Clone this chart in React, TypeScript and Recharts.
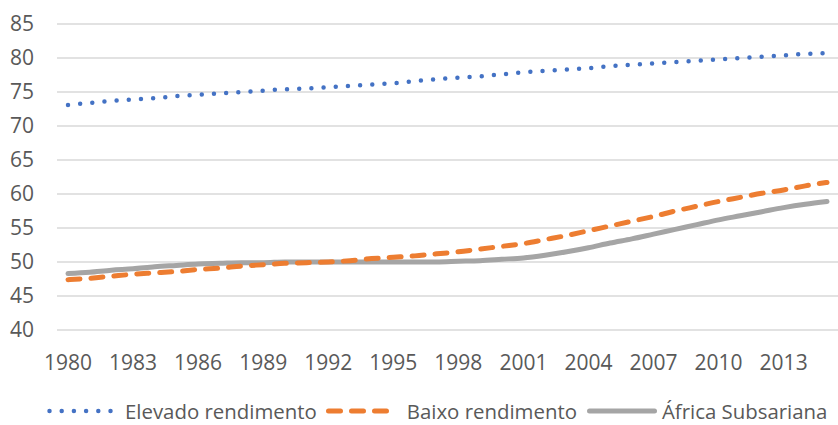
import React from 'react';
import { LineChart, Line, XAxis, YAxis, CartesianGrid, Legend } from 'recharts';

const years = [
  '1980', '1981', '1982', '1983', '1984', '1985', '1986', '1987', '1988', '1989',
  '1990', '1991', '1992', '1993', '1994', '1995', '1996', '1997', '1998', '1999',
  '2000', '2001', '2002', '2003', '2004', '2005', '2006', '2007', '2008', '2009',
  '2010', '2011', '2012', '2013', '2014', '2015',
];

const elevado = [
  73.1, 73.4, 73.7, 73.9, 74.1, 74.4, 74.6, 74.8, 75.0, 75.2,
  75.4, 75.5, 75.7, 75.9, 76.1, 76.3, 76.6, 76.9, 77.1, 77.3,
  77.6, 77.9, 78.1, 78.3, 78.5, 78.8, 79.0, 79.2, 79.4, 79.6,
  79.8, 80.0, 80.2, 80.4, 80.6, 80.7,
];

const baixo = [
  47.4, 47.6, 47.9, 48.2, 48.4, 48.6, 48.9, 49.1, 49.4, 49.6,
  49.8, 49.9, 50.0, 50.2, 50.5, 50.7, 50.9, 51.2, 51.5, 51.9,
  52.3, 52.7, 53.3, 53.9, 54.6, 55.3, 56.0, 56.7, 57.5, 58.2,
  58.9, 59.5, 60.1, 60.6, 61.2, 61.7,
];

const africa = [
  48.3, 48.5, 48.8, 49.0, 49.3, 49.5, 49.7, 49.8, 49.9, 49.9,
  50.0, 50.0, 50.0, 50.0, 50.0, 50.0, 50.0, 50.0, 50.1, 50.2,
  50.4, 50.6, 51.0, 51.5, 52.1, 52.8, 53.4, 54.1, 54.8, 55.5,
  56.2, 56.8, 57.4, 58.0, 58.5, 58.9,
];

const yTicks = [40, 45, 50, 55, 60, 65, 70, 75, 80, 85];

const seriesNames = ['Elevado rendimento', 'Baixo rendimento', 'África Subsariana'];

const data = years.map((y, i) => ({
  year: y,
  elevado: elevado[i],
  baixo: baixo[i],
  africa: africa[i],
}));

const FONT = '"Open Sans", sans-serif';
const FS = 21;
const LFS = 20.4;
const TEXT = '#595959';
const BLUE = '#4472C4';
const ORANGE = '#ED7D31';
const GRAY = '#A5A5A5';

const LegendContent = () => {
  const itemText: React.CSSProperties = {
    fontFamily: FONT,
    fontSize: LFS,
    color: TEXT,
    whiteSpace: 'nowrap',
    lineHeight: 'normal',
    flex: 'none',
  };
  return (
    <div style={{ display: 'flex', alignItems: 'center', paddingLeft: 47 }}>
      <svg width={66} height={10} style={{ marginRight: 12, flex: 'none' }}>
        <line x1={2.5} y1={5} x2={64} y2={5} stroke={BLUE} strokeWidth={4.5} strokeLinecap="round" strokeDasharray="0 12.2" />
      </svg>
      <span style={itemText}>{seriesNames[0]}</span>
      <svg width={65} height={10} style={{ marginLeft: 9, marginRight: 16, flex: 'none' }}>
        <line x1={2.5} y1={5} x2={63} y2={5} stroke={ORANGE} strokeWidth={5} strokeLinecap="round" strokeDasharray="12 11" />
      </svg>
      <span style={itemText}>{seriesNames[1]}</span>
      <svg width={70} height={10} style={{ marginLeft: 10, marginRight: 5, flex: 'none' }}>
        <line x1={2.5} y1={5} x2={67.5} y2={5} stroke={GRAY} strokeWidth={5} strokeLinecap="round" />
      </svg>
      <span style={itemText}>{seriesNames[2]}</span>
    </div>
  );
};

export default function App() {
  return (
    <div style={{ position: 'absolute', left: 0, top: 0, background: '#fff' }}>
      <LineChart width={838} height={425} data={data} margin={{ top: 24, right: 0, bottom: 37, left: 0 }}>
        <CartesianGrid vertical={false} stroke="#D9D9D9" strokeWidth={1.5} />
        <XAxis
          dataKey="year"
          interval={2}
          axisLine={false}
          tickLine={false}
          tickMargin={19}
          padding={{ left: 11, right: 11 }}
          tick={{ fill: TEXT, fontSize: FS, fontFamily: FONT }}
        />
        <YAxis
          width={57}
          domain={[40, 85]}
          ticks={yTicks}
          interval={0}
          axisLine={false}
          tickLine={false}
          tickMargin={17}
          tick={{ fill: TEXT, fontSize: FS, fontFamily: FONT }}
        />
        <Line type="monotone" dataKey="africa" name={seriesNames[2]} stroke={GRAY} strokeWidth={5} dot={false} isAnimationActive={false} strokeLinecap="round" />
        <Line type="monotone" dataKey="baixo" name={seriesNames[1]} stroke={ORANGE} strokeWidth={5} strokeDasharray="12 11" strokeLinecap="round" dot={false} isAnimationActive={false} />
        <Line type="monotone" dataKey="elevado" name={seriesNames[0]} stroke={BLUE} strokeWidth={4.5} strokeDasharray="0 12.2" strokeLinecap="round" dot={false} isAnimationActive={false} />
        <Legend content={<LegendContent />} wrapperStyle={{ position: 'absolute', left: 0, top: 397, width: 838 }} />
      </LineChart>
    </div>
  );
}
